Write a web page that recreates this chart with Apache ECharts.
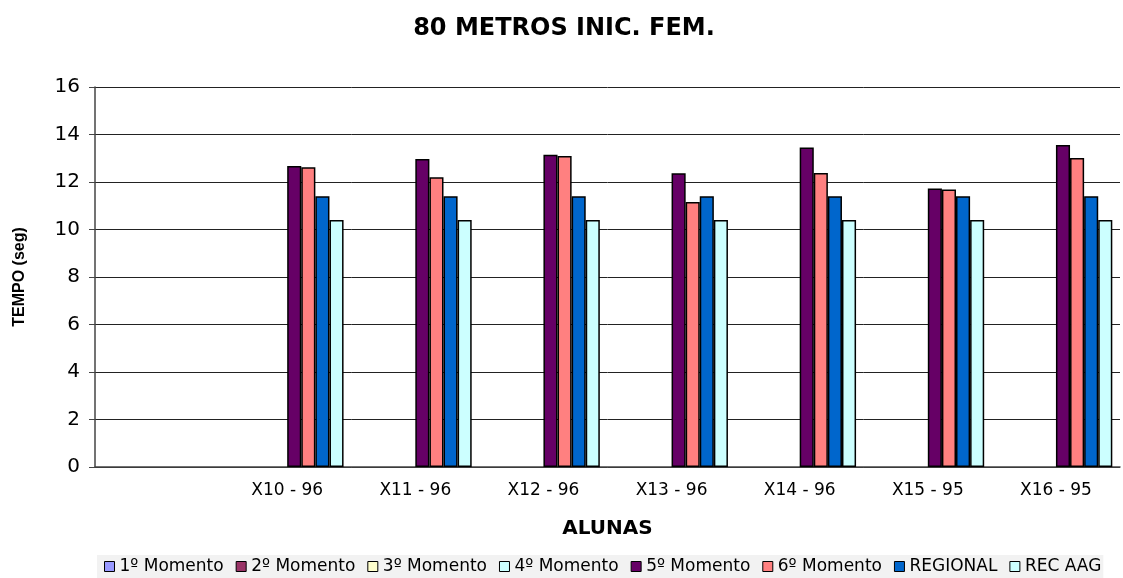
<!DOCTYPE html>
<html>
<head>
<meta charset="utf-8">
<script src="https://cdn.jsdelivr.net/npm/echarts@6/dist/echarts.min.js"></script>
<style>
  html, body { margin: 0; padding: 0; background: #fff; }
  #chart { width: 1123px; height: 578px; }
</style>
</head>
<body>
<div id="chart"></div>
<script>
'use strict';

// categorias (a primeira fica vazia, como no original)
var alunas = ['', 'X10 - 96', 'X11 - 96', 'X12 - 96', 'X13 - 96', 'X14 - 96', 'X15 - 95', 'X16 - 95'];

// tempos (seg)
var momento1 = [null, null, null, null, null, null, null, null],
	momento2 = [null, null, null, null, null, null, null, null],
	momento3 = [null, null, null, null, null, null, null, null],
	momento4 = [null, null, null, null, null, null, null, null],
	momento5 = [null, 12.67, 12.97, 13.15, 12.37, 13.45, 11.73, 13.56],
	momento6 = [null, 12.62, 12.2, 13.09, 11.16, 12.38, 11.68, 13.01],
	regional = [null, 11.4, 11.4, 11.4, 11.4, 11.4, 11.4, 11.4],
	recAag = [null, 10.4, 10.4, 10.4, 10.4, 10.4, 10.4, 10.4];

var nomes = ['1º Momento', '2º Momento', '3º Momento', '4º Momento', '5º Momento', '6º Momento', 'REGIONAL', 'REC AAG'];
var cores = ['#9999FF', '#993366', '#FFFFCC', '#CCFFFF', '#660066', '#FF8080', '#0066CC', '#CCFFFF'];
var dados = [momento1, momento2, momento3, momento4, momento5, momento6, regional, recAag];

// fonte larga, para imitar o texto esticado do original
var fonte = '"DejaVu Sans", Verdana, sans-serif';

var series = nomes.map(function (nome, i) {
	return {
		name: nome,
		type: 'bar',
		data: dados[i],
		barGap: '0%',
		barCategoryGap: '12%',
		itemStyle: { color: cores[i], borderColor: '#000', borderWidth: 1.5 }
	};
});

var chart = echarts.init(document.getElementById('chart'));
chart.setOption({
	animation: false,
	textStyle: { fontFamily: fonte },
	title: {
		text: '80 METROS INIC. FEM.',
		left: 559,
		top: 12,
		textAlign: 'center',
		textStyle: { fontFamily: fonte, fontSize: 24, fontWeight: 'bold', color: '#000' }
	},
	legend: {
		data: nomes,
		left: 97,
		bottom: 0,
		width: 1026,
		backgroundColor: '#f2f2f2',
		padding: [3, 2, 3, 7],
		itemWidth: 10,
		itemHeight: 10,
		itemGap: 12,
		icon: 'rect',
		itemStyle: { borderColor: '#000', borderWidth: 1 },
		textStyle: { fontFamily: fonte, fontSize: 17, color: '#000' }
	},
	grid: { left: 95, right: 3, top: 87, bottom: 111, containLabel: false },
	xAxis: {
		type: 'category',
		data: alunas,
		name: 'ALUNAS',
		nameLocation: 'middle',
		nameGap: 52,
		nameTextStyle: { fontFamily: fonte, fontSize: 20, fontWeight: 'bold', color: '#000' },
		axisLine: { lineStyle: { color: '#444', width: 1.5 } },
		axisTick: { length: 6, lineStyle: { color: '#444' } },
		axisLabel: { fontFamily: fonte, fontSize: 17, color: '#000', margin: 15 }
	},
	yAxis: {
		type: 'value',
		min: 0,
		max: 16,
		interval: 2,
		name: 'TEMPO (seg)',
		nameLocation: 'middle',
		nameGap: 67,
		nameRotate: 90,
		nameTextStyle: { fontFamily: '"Liberation Sans", Arial, sans-serif', fontSize: 16, fontWeight: 'bold', color: '#000' },
		axisLine: { show: true, lineStyle: { color: '#444', width: 1.5 } },
		axisTick: { show: true, length: 6, lineStyle: { color: '#444' } },
		axisLabel: { fontFamily: fonte, fontSize: 20, color: '#000', margin: 15 },
		splitLine: { lineStyle: { color: '#222', width: 1 } }
	},
	series: series
});
</script>
</body>
</html>
